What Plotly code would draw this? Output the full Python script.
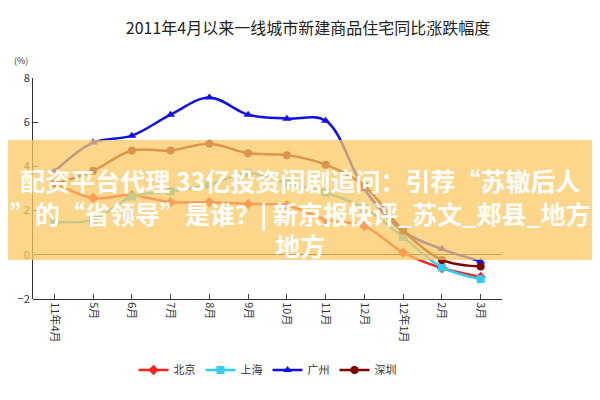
import plotly.graph_objects as go

months = ["11年4月","5月","6月","7月","8月","9月","10月","11月","12月","12年1月","2月","3月"]
beijing = [3.25,2.57,2.7,2.38,2.38,2.3,2.23,1.6,1.3,0.1,-0.6,-1.0]
shanghai = [1.5,1.58,2.64,2.87,3.17,3.7,3.25,2.82,2.1,0.8,-0.57,-1.1]
guangzhou = [3.77,5.08,5.39,6.34,7.12,6.34,6.16,6.07,2.97,1.06,0.26,-0.3]
shenzhen = [3.2,3.8,4.72,4.72,5.03,4.6,4.51,4.08,3.12,1.1,-0.23,-0.53]

x = list(range(len(months)))
fig = go.Figure()
series = [("北京", beijing, "#ff2020", "diamond"),
          ("上海", shanghai, "#33ccee", "square"),
          ("广州", guangzhou, "#1010ee", "triangle-up"),
          ("深圳", shenzhen, "#800000", "circle")]
for name, vals, col, sym in series:
    fig.add_trace(go.Scatter(x=x, y=vals, name=name, mode="lines+markers",
        line=dict(color=col, width=2.5, shape="spline"),
        marker=dict(symbol=sym, size=8, color=col)))

L, T, B = 25, 70, 291
W = 469.0; H = float(B - T)
def py(p): return (B - p) / H
def px(p): return (p - L) / W
fig.update_layout(
    width=600, height=400, plot_bgcolor="white", paper_bgcolor="white",
    margin=dict(l=L, r=600-L-469, t=T, b=400-B, autoexpand=False),
    title=dict(text="2011年4月以来一线城市新建商品住宅同比涨跌幅度", x=0.5, xanchor="center",
               y=1-20/400, yanchor="middle",
               font=dict(family="Noto Sans CJK SC", size=16, color="#222")),
    font=dict(family="Noto Sans CJK SC", size=11, color="#333"),
    xaxis=dict(tickmode="array", tickvals=x, ticktext=months, tickangle=90, range=[-0.55, 11.55],
               showline=True, linecolor="#333", ticks="inside", showgrid=False, zeroline=False,
               anchor="free", position=0.0),
    yaxis=dict(range=[-2, 8], dtick=2, showline=True, linecolor="#333", ticks="inside",
               showgrid=False, zeroline=True, zerolinecolor="#333", zerolinewidth=1),
    legend=dict(orientation="h", x=0.5, xanchor="center", y=py(362), yanchor="middle",
                font=dict(size=11)),
    showlegend=True,
)
fig.add_annotation(text="(%)", xref="paper", yref="paper", x=px(4), y=py(44), showarrow=False,
                   font=dict(size=9))
fig.add_shape(type="rect", xref="paper", yref="paper", x0=px(-10), x1=px(610),
              y0=py(252), y1=py(132),
              fillcolor="rgba(250,200,100,0.75)", line=dict(width=0), layer="above")
fig.add_annotation(text="<b>配资平台代理 33亿投资闹剧追问：引荐“苏辙后人<br>”的“省领导”是谁？| 新京报快评_苏文_郏县_地方<br>地方</b>",
                   xref="paper", yref="paper", x=px(292), y=py(204), showarrow=False,
                   font=dict(size=25, color="white", family="Noto Sans CJK SC"), align="center")
fig.write_html("out.html")
